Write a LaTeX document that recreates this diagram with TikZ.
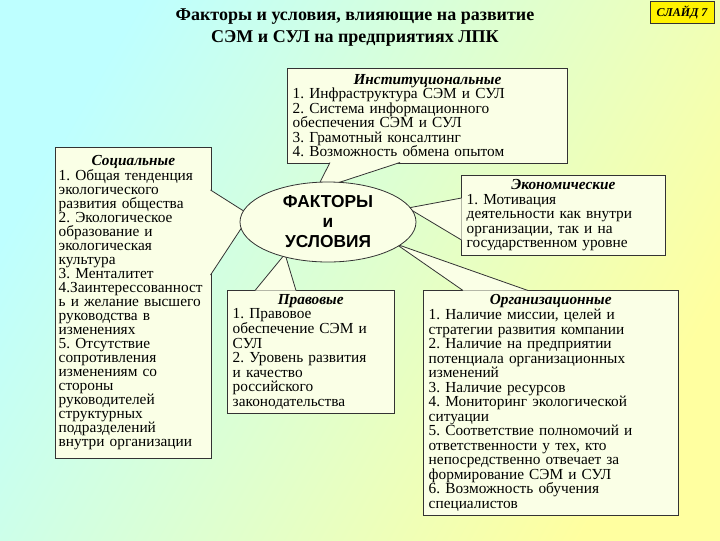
\documentclass[tikz,border=0pt]{standalone}
\usepackage{fontspec}
\setmainfont{Liberation Serif}
\newfontfamily\bigsans{Liberation Sans}
\definecolor{bfill}{HTML}{FAFFE6}
\frenchspacing
\tikzset{
  cbox/.style={draw=black!80, line width=0.6pt, fill=bfill, anchor=north west, inner sep=3pt,
    font=\fontsize{11.5}{10.9}\selectfont, align=left, text width=#1},
  tailfill/.style={fill=bfill},
  tailline/.style={draw=black!80, line width=0.6pt},
}
\newcommand{\hd}[1]{\makebox[\linewidth]{\textbf{\textit{#1}}}}
\begin{document}
\begin{tikzpicture}[x=0.75pt,y=-0.75pt]
\shade[shading=axis, left color={rgb,255:red,190;green,255;blue,255}, right color={rgb,255:red,255;green,255;blue,160}, shading angle=60] (0,0) rectangle (720,540);
\useasboundingbox (0,0) rectangle (720,540);
\node[font=\fontsize{13.5}{16.5}\selectfont\bfseries, align=center] (title) at (355,28) {Факторы и условия, влияющие на развитие\\СЭМ и СУЛ на предприятиях ЛПК};
\node[draw=black!80, fill=yellow, font=\fontsize{9}{10}\selectfont\bfseries\itshape, minimum width=48pt, minimum height=14pt] (slide) at (682,12) {СЛАЙД 7};
% boxes
\node[cbox=202pt, minimum width=210pt, minimum height=71pt] (inst) at (287,68) {\hd{Институциональные}\\1. Инфраструктура СЭМ и СУЛ\\2. Система информационного\\обеспечения СЭМ и СУЛ\\3. Грамотный консалтинг\\4. Возможность обмена опытом};
\node[cbox=112pt, inner sep=2pt, minimum width=117pt, minimum height=233pt, font=\fontsize{11.5}{10.5}\selectfont] (soc) at (55,147) {\hd{Социальные}\\1. Общая тенденция\\экологического\\развития общества\\2. Экологическое\\образование и\\экологическая\\культура\\3. Менталитет\\4.Заинтерессованност\\ь и желание высшего\\руководства в\\изменениях\\5. Отсутствие\\сопротивления\\изменениям со\\стороны\\руководителей\\структурных\\подразделений\\внутри организации};
\node[cbox=145pt, minimum width=153pt, minimum height=60pt] (eco) at (461,175) {\hd{Экономические}\\1. Мотивация\\деятельности как внутри\\организации, так и на\\государственном уровне};
\node[cbox=117pt, minimum width=125pt, minimum height=91pt] (prav) at (227,290) {\hd{Правовые}\\1. Правовое\\обеспечение СЭМ и\\СУЛ\\2. Уровень развития\\и качество\\российского\\законодательства};
\node[cbox=183pt, minimum width=191pt, minimum height=169pt] (org) at (423,290) {\hd{Организационные}\\1. Наличие миссии, целей и\\стратегии развития компании\\2. Наличие на предприятии\\потенциала организационных\\изменений\\3. Наличие ресурсов\\4. Мониторинг экологической\\ситуации\\5. Соответствие полномочий и\\ответственности у тех, кто\\непосредственно отвечает за\\формирование СЭМ и СУЛ\\6. Возможность обучения\\специалистов};
% tail coordinates
\coordinate (i1) at (330,162.5); \coordinate (i2) at (400,162.5); \coordinate (it) at (316,190);
\coordinate (s1) at (210.5,190); \coordinate (s2) at (210.5,275); \coordinate (st) at (250,215);
\coordinate (e1) at (461.5,198); \coordinate (e2) at (461.5,240); \coordinate (et) at (408,208);
\coordinate (p1) at (255,290.5); \coordinate (p2) at (296,290.5); \coordinate (pt) at (285,254);
\coordinate (o1) at (463,290.5); \coordinate (o2) at (528,290.5); \coordinate (ot) at (396,244);
\foreach \a/\t/\b in {i1/it/i2, s1/st/s2, e1/et/e2, p1/pt/p2, o1/ot/o2}{
  \fill[tailfill] (\a) -- (\t) -- (\b) -- cycle;
  \draw[tailline] (\a) -- (\t) -- (\b);
}
% centre ellipse
\draw[black!80, line width=0.6pt, fill=bfill] (328,222) ellipse [x radius=88, y radius=40];
\node[font=\bigsans\fontsize{13}{15}\selectfont\bfseries, align=center] (core) at (328,222) {ФАКТОРЫ\\и\\УСЛОВИЯ};
\end{tikzpicture}
\end{document}
